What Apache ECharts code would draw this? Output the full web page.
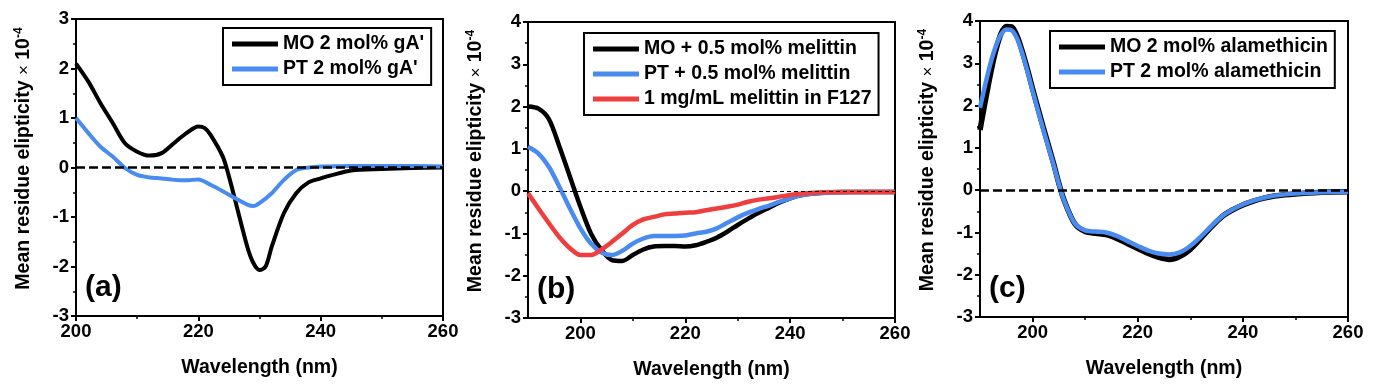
<!DOCTYPE html>
<html><head><meta charset="utf-8">
<script src="https://cdn.jsdelivr.net/npm/echarts@6/dist/echarts.min.js"></script>
<style>html,body{margin:0;padding:0;background:#fff}#c{width:1375px;height:388px}</style>
</head><body><div id="c"></div>
<script>
// ---- Panel (a) data ----
const wlA = [200,202,204,206,208,210,212,214,216,218,220,221,222,224,225,226,228,229,230,231,232,234,236,238,240,242,245,250,255,260];
const moGA = [2.1,1.74,1.3,0.9,0.49,0.32,0.24,0.29,0.49,0.69,0.83,0.8,0.66,0.22,-0.18,-0.65,-1.6,-1.93,-2.07,-2.0,-1.6,-0.92,-0.52,-0.3,-0.22,-0.15,-0.06,-0.03,-0.01,0.0];
const wlA2 = [200,202,204,206,208,210,212,214,216,218,220,222,224,226,228,229,230,232,234,236,238,240,245,250,255,260];
const ptGA = [1.0,0.7,0.42,0.22,-0.01,-0.15,-0.2,-0.22,-0.25,-0.26,-0.24,-0.35,-0.48,-0.62,-0.75,-0.78,-0.72,-0.52,-0.25,-0.05,0.0,0.02,0.03,0.03,0.03,0.02];
// ---- Panel (b) data ----
const wlB = [190,192,194,196,198,200,202,204,206,208,210,212,214,216,218,220,222,224,226,228,230,232,234,236,238,240,242,245,250,255,260];
const moMel = [2.0,1.95,1.7,1.05,0.34,-0.37,-1.0,-1.39,-1.63,-1.65,-1.51,-1.38,-1.31,-1.3,-1.3,-1.31,-1.28,-1.2,-1.1,-0.96,-0.8,-0.65,-0.51,-0.39,-0.27,-0.17,-0.1,-0.05,-0.02,-0.02,-0.02];
const ptMel = [1.05,0.89,0.57,0.1,-0.41,-0.88,-1.24,-1.45,-1.51,-1.41,-1.24,-1.12,-1.06,-1.06,-1.06,-1.05,-1.0,-0.96,-0.88,-0.75,-0.62,-0.51,-0.42,-0.34,-0.25,-0.17,-0.1,-0.05,-0.03,-0.02,-0.02];
const f127Mel = [-0.05,-0.41,-0.76,-1.09,-1.35,-1.51,-1.51,-1.38,-1.2,-1.0,-0.8,-0.67,-0.61,-0.55,-0.53,-0.51,-0.5,-0.45,-0.41,-0.37,-0.32,-0.25,-0.2,-0.17,-0.13,-0.09,-0.06,-0.03,-0.02,-0.02,-0.02];
// ---- Panel (c) data ----
const wlC = [190,191,192,193,194,195,196,197,198,199,200,202,204,205,206,208,210,212,214,216,218,220,222,224,226,228,230,232,234,236,238,240,242,244,246,248,250,255,260];
const moAla = [1.42,2.1,2.75,3.3,3.7,3.87,3.86,3.66,3.3,2.87,2.4,1.5,0.63,0.16,-0.24,-0.79,-0.98,-1.02,-1.05,-1.14,-1.26,-1.38,-1.5,-1.59,-1.64,-1.57,-1.4,-1.14,-0.87,-0.63,-0.47,-0.35,-0.26,-0.19,-0.14,-0.11,-0.09,-0.05,-0.04];
const ptAla = [1.95,2.5,3.0,3.4,3.68,3.8,3.78,3.6,3.25,2.82,2.35,1.45,0.6,0.15,-0.25,-0.78,-0.95,-0.98,-1.0,-1.08,-1.2,-1.32,-1.43,-1.5,-1.52,-1.47,-1.32,-1.1,-0.85,-0.62,-0.46,-0.34,-0.25,-0.18,-0.13,-0.1,-0.08,-0.05,-0.04];
// ---- Axis ticks ----
const xLabelVals = [200,220,240,260];
const xMinorVals = [210,230,250];
const panelTags = ['(a)','(b)','(c)'];

const BLUE = '#4a8bf0', RED = '#ee3e3e', BLACK = '#000';
const FONT = 'Liberation Sans, Arial, sans-serif';
const zip = (x, y) => x.map((v, i) => [v, y[i]]);

const grids = [
  {left: 76, top: 19, width: 367, height: 297},
  {left: 528, top: 22, width: 367, height: 296},
  {left: 980, top: 21, width: 368, height: 296}
];
const xRanges = [[200,260],[190,260],[190,260]];
const yRanges = [[-3,3],[-3,4],[-3,4]];

const option = {
  animation: false,
  backgroundColor: '#fff',
  textStyle: {fontFamily: FONT},
  grid: grids.map(g => Object.assign({show: true, borderColor: '#000', borderWidth: 2, backgroundColor: 'transparent', containLabel: false}, g)),
  xAxis: [],
  yAxis: [],
  series: [],
  legend: [],
  graphic: []
};

for (let i = 0; i < 3; i++) {
  option.xAxis.push({
    type: 'value', gridIndex: i, position: 'bottom', min: xRanges[i][0], max: xRanges[i][1], interval: 10,
    name: 'Wavelength (nm)', nameLocation: 'middle', nameGap: 42,
    nameTextStyle: {fontSize: 19.5, fontWeight: 'bold', color: '#000', fontFamily: FONT},
    axisLine: {show: true, onZero: false, lineStyle: {color: '#000', width: 2}},
    axisTick: {show: true, inside: false, length: 5, lineStyle: {width: 2, color: '#000'}, customValues: xLabelVals},
    axisLabel: {show: true, fontSize: 18.5, fontWeight: 'bold', color: '#000', margin: 6, customValues: xLabelVals, fontFamily: FONT},
    splitLine: {show: false}
  });
  option.xAxis.push({
    type: 'value', gridIndex: i, position: 'bottom', min: xRanges[i][0], max: xRanges[i][1], interval: 10,
    axisLine: {show: false, onZero: false},
    axisTick: {show: true, inside: false, length: 3, lineStyle: {width: 1.5, color: '#000'}, customValues: xMinorVals},
    axisLabel: {show: false},
    splitLine: {show: false}
  });
  option.yAxis.push({
    type: 'value', gridIndex: i, min: yRanges[i][0], max: yRanges[i][1], interval: 1,
    name: '{b|Mean residue elipticity }{n|×}{b| 10}{s|-4}', nameLocation: 'middle', nameGap: 41, nameRotate: 90,
    nameTextStyle: {color: '#000', fontFamily: FONT, padding: [0, 0, 0, 18], rich: {
      b: {fontSize: 19.5, fontWeight: 'bold', color: '#000', fontFamily: FONT},
      n: {fontSize: 17, fontWeight: 'normal', color: '#000', fontFamily: FONT},
      s: {fontSize: 12, fontWeight: 'bold', color: '#000', fontFamily: FONT, verticalAlign: 'top', lineHeight: 22}
    }},
    axisLine: {show: true, onZero: false, lineStyle: {color: '#000', width: 2}},
    axisTick: {show: true, inside: false, length: 5, lineStyle: {width: 2, color: '#000'}},
    minorTick: {show: true, splitNumber: 2, length: 3, lineStyle: {width: 1.5, color: '#000'}},
    axisLabel: {show: true, fontSize: 18.5, fontWeight: 'bold', color: '#000', margin: 7, fontFamily: FONT},
    splitLine: {show: false}
  });
  option.graphic.push({
    type: 'text', left: grids[i].left + 9, top: grids[i].top + grids[i].height - 43,
    style: {text: panelTags[i], font: 'bold 30px ' + FONT, fill: '#000'}
  });
}

function line(name, xi, yi, data, color, w) {
  return {name, type: 'line', xAxisIndex: xi, yAxisIndex: yi, data, smooth: 0.3, showSymbol: false, symbol: 'none',
    lineStyle: {color, width: w}, itemStyle: {color}, z: 3};
}
function zeroLine(xi, yi, w, dash) {
  return {type: 'line', xAxisIndex: xi, yAxisIndex: yi, data: [], silent: true,
    markLine: {silent: true, symbol: 'none', label: {show: false},
      lineStyle: {type: dash, color: '#000', width: w}, data: [{yAxis: 0}]}, z: 2};
}

option.series.push(zeroLine(0, 0, 2.5, [9, 4]));
option.series.push(line("MO 2 mol% gA'", 0, 0, zip(wlA, moGA), BLACK, 4));
option.series.push(line("PT 2 mol% gA'", 0, 0, zip(wlA2, ptGA), BLUE, 4));

option.series.push(zeroLine(2, 1, 1, [4, 3]));
option.series.push(line('MO + 0.5 mol% melittin', 2, 1, zip(wlB, moMel), BLACK, 4.5));
option.series.push(line('PT + 0.5 mol% melittin', 2, 1, zip(wlB, ptMel), BLUE, 4.5));
option.series.push(line('1 mg/mL melittin in F127', 2, 1, zip(wlB, f127Mel), RED, 4.5));

option.series.push(zeroLine(4, 2, 2.5, [9, 4]));
option.series.push(line('MO 2 mol% alamethicin', 4, 2, zip(wlC, moAla), BLACK, 5.5));
option.series.push(line('PT 2 mol% alamethicin', 4, 2, zip(wlC, ptAla), BLUE, 4.5));

const legendCommon = {
  orient: 'vertical', icon: 'rect', itemWidth: 46, itemHeight: 5, itemGap: 5,
  borderColor: '#000', borderWidth: 2, backgroundColor: '#fff',
  textStyle: {fontSize: 19.5, fontWeight: 'bold', color: '#000', fontFamily: FONT, padding: [0, 0, 0, 0]},
  padding: [6, 7, 6, 9]
};
option.legend.push(Object.assign({}, legendCommon, {left: 223, top: 28, data: ["MO 2 mol% gA'", "PT 2 mol% gA'"]}));
option.legend.push(Object.assign({}, legendCommon, {left: 584, top: 33, data: ['MO + 0.5 mol% melittin', 'PT + 0.5 mol% melittin', '1 mg/mL melittin in F127']}));
option.legend.push(Object.assign({}, legendCommon, {left: 1050, top: 31, data: ['MO 2 mol% alamethicin', 'PT 2 mol% alamethicin']}));

const chart = echarts.init(document.getElementById('c'), null, {renderer: 'canvas'});
chart.setOption(option);
</script>
</body></html>
